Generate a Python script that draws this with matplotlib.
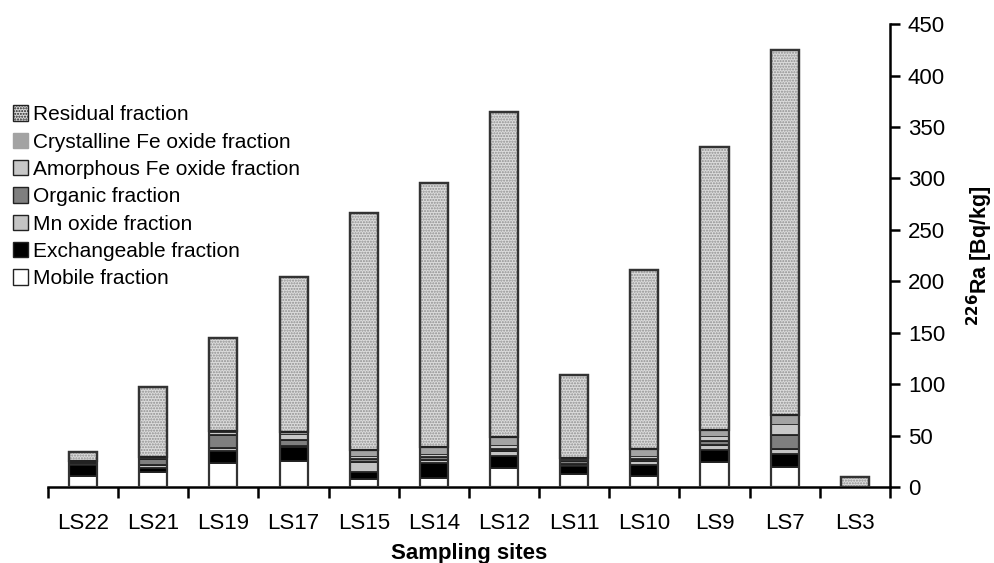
import numpy as np
import matplotlib
matplotlib.use('Agg')
import matplotlib.pyplot as plt
from matplotlib.patches import Patch

plt.rcParams['font.family'] = ['Liberation Sans', 'DejaVu Sans']

sites = ['LS22', 'LS21', 'LS19', 'LS17', 'LS15', 'LS14', 'LS12', 'LS11', 'LS10', 'LS9', 'LS7', 'LS3']

# 226Ra activity in each fraction [Bq/kg]
mobile = [11, 15, 23, 25, 8, 9, 18, 13, 11, 24, 19, 0]
exchangeable = [10, 3, 12, 14, 7, 14, 12, 7, 10, 12, 13, 0]
mn_oxide = [2, 3, 3, 1, 9, 3, 5, 2, 4, 5, 5, 0]
organic = [1, 6, 13, 6, 3, 3, 2, 3, 2, 4, 14, 0]
amorphous_fe = [1, 2, 2, 6, 3, 3, 4, 2, 3, 5, 10, 0]
crystalline_fe = [0, 0, 1, 1, 6, 7, 8, 1, 7, 5, 9, 0]
totals = [34, 97, 145, 204, 266, 296, 365, 109, 211, 331, 425, 10]

lower = [mobile, exchangeable, mn_oxide, organic, amorphous_fe, crystalline_fe]
residual = list(np.array(totals) - np.sum(lower, axis=0))

names = ['Mobile fraction', 'Exchangeable fraction', 'Mn oxide fraction', 'Organic fraction',
         'Amorphous Fe oxide fraction', 'Crystalline Fe oxide fraction']
colors = ['white', 'black', '#c4c4c4', '#7f7f7f', '#c8c8c8', '#a3a3a3']
edges = ['#222222', '#222222', '#222222', '#222222', '#222222', 'none']

fig = plt.figure(figsize=(9.94, 5.63), dpi=100)
ax = fig.add_axes([0.0483, 0.135, 0.847, 0.822])

x = np.arange(len(sites))
w = 0.4
bottom = np.zeros(len(sites))
for vals, c, ec in zip(lower, colors, edges):
    ax.bar(x, vals, w, bottom=bottom, color=c, edgecolor=ec, linewidth=1.3, zorder=2)
    bottom += np.array(vals)

# residual with stipple texture
ax.bar(x, residual, w, bottom=bottom, color='#dcdcdc', edgecolor='#8f8f8f', hatch='......',
       linewidth=0, zorder=2)
ax.bar(x, residual, w, bottom=bottom, fill=False, edgecolor='#222222', linewidth=1.6, zorder=3)
# outline of whole bar
ax.bar(x, totals, w, fill=False, edgecolor='#333333', linewidth=1.6, zorder=4)

ax.set_xlim(-0.5, len(sites) - 0.5)
ax.set_ylim(0, 450)

for s in ['top', 'left']:
    ax.spines[s].set_visible(False)
ax.spines['bottom'].set_linewidth(1.8)
ax.spines['right'].set_linewidth(1.8)

ax.yaxis.tick_right()
ax.yaxis.set_label_position('right')
ax.set_yticks(np.arange(0, 451, 50))
ax.tick_params(axis='y', direction='out', length=7, width=1.8, labelsize=16, pad=6)

ax.set_xticks(x)
ax.set_xticklabels(sites, fontsize=16)
ax.set_xticks(np.arange(-0.5, len(sites)), minor=True)
ax.tick_params(axis='x', which='major', length=0, pad=19)
ax.tick_params(axis='x', which='minor', direction='out', length=8, width=1.8)

ax.set_xlabel('Sampling sites', fontsize=16, fontweight='bold', labelpad=6)
ax.set_ylabel(r'$\mathbf{^{226}}$Ra [Bq/kg]', fontsize=15.5, fontweight='bold', labelpad=14)

handles = [Patch(facecolor='#dcdcdc', edgecolor='#222222', hatch='......', label='Residual fraction')]
for n, c, ec in zip(names[::-1], colors[::-1], edges[::-1]):
    handles.append(Patch(facecolor=c, edgecolor=ec if ec != 'none' else c, label=n))
ax.legend(handles=handles, loc='upper left', bbox_to_anchor=(-0.052, 0.843), frameon=False,
          fontsize=15, handlelength=0.75, handleheight=0.75, handletextpad=0.25, labelspacing=0.4,
          borderaxespad=0)

fig.savefig('out.png', dpi=100)
